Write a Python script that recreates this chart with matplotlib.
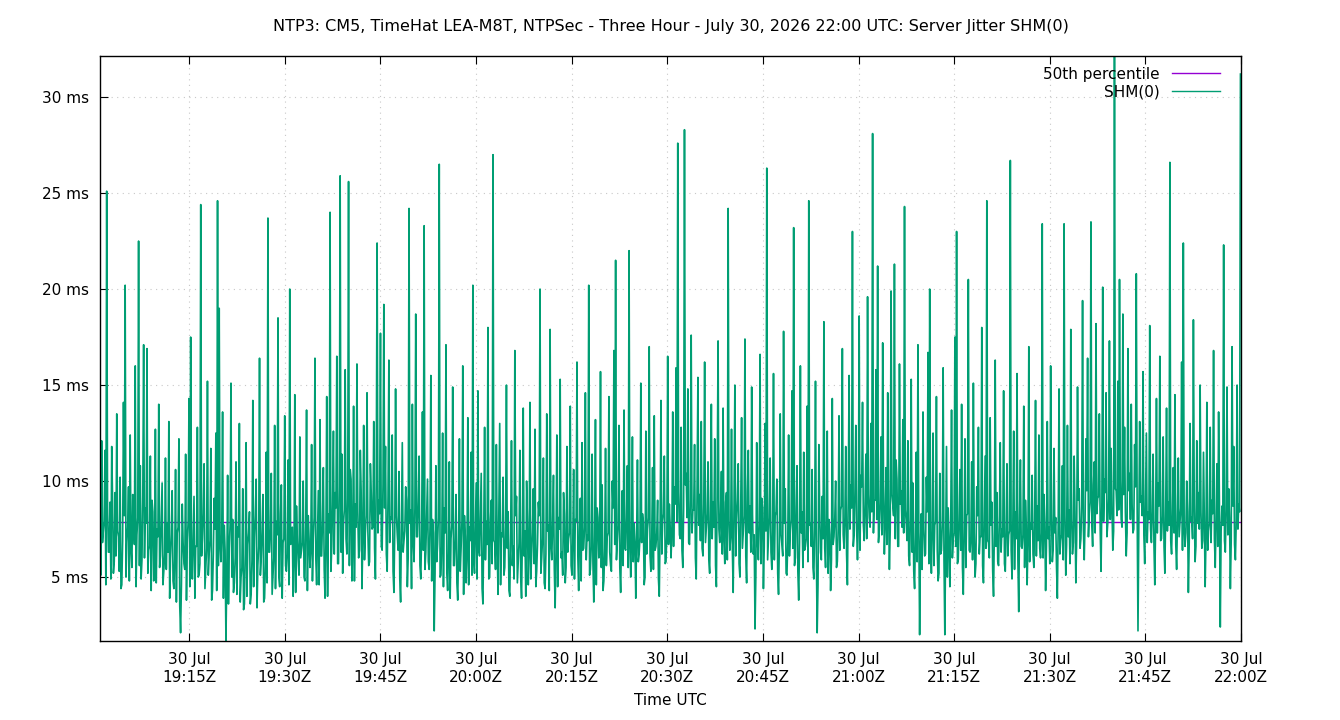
import numpy as np
import pandas as pd
import matplotlib
matplotlib.use("Agg")
import matplotlib.pyplot as plt

# sample window
start_time = "2026-07-30 19:01:00"
end_time = "2026-07-30 21:59:55"

# SHM(0) jitter in ms left to right (main samples)
jitter_a = [
    9.8, 12.1, 7.4, 11.6, 25.1, 6.3, 8.9, 11.8, 5.2, 9.4, 13.5, 7.1, 10.2, 4.6, 14.1, 20.2, 6.8, 9.7, 12.4, 5.5,
    8.3, 16.0, 7.2, 22.5, 10.8, 5.9, 17.1, 8.6, 16.9, 6.4, 11.3, 9.0, 4.8, 12.7, 7.5, 14.0, 6.1, 9.9, 5.3, 11.2,
    7.8, 13.1, 6.0, 9.5, 4.4, 10.6, 7.3, 12.2, 2.1, 8.8, 5.7, 11.4, 6.9, 14.3, 17.5, 4.9, 9.2, 6.6, 12.8, 5.1,
    24.4, 7.0, 10.9, 5.4, 15.2, 6.2, 11.7, 4.3, 9.1, 12.5, 24.6, 19.0, 5.8, 13.6, 7.7, 1.7, 10.3, 6.5, 15.1, 8.0,
    4.7, 11.0, 7.6, 13.0, 5.0, 9.6, 3.6, 12.0, 6.7, 8.4, 4.1, 14.2, 7.1, 10.1, 5.6, 16.4, 6.0, 9.3, 3.9, 11.5,
    23.7, 6.3, 10.4, 5.1, 12.9, 7.9, 18.5, 4.5, 9.8, 6.8, 13.4, 5.3, 11.1, 20.0, 7.4, 4.0, 14.5, 8.7, 5.9, 12.3,
    6.4, 10.0, 4.8, 13.7, 8.2, 5.5, 11.9, 7.0, 16.4, 4.6, 9.5, 13.2, 6.1, 10.7, 3.9, 14.4, 8.3, 24.0, 6.6, 12.6,
    9.4, 16.5, 5.7, 25.9, 11.4, 7.8, 15.8, 6.2, 25.6, 10.6, 4.8, 13.9, 8.8, 16.1, 6.0, 11.6, 4.4, 12.9, 7.3, 14.6,
    5.6, 10.9, 7.5, 13.1, 4.9, 22.4, 9.0, 17.7, 6.4, 19.2, 11.8, 5.3, 16.3, 8.1, 12.4, 4.2, 14.8, 7.2, 10.5, 3.7,
    12.0, 6.9, 9.7, 4.5, 24.2, 8.5, 14.0, 5.8, 18.7, 7.1, 11.3, 4.9, 13.6, 23.3, 6.3, 10.1, 5.4, 15.5, 8.0, 2.2,
    10.8, 6.7, 26.5, 5.1, 12.5, 8.6, 17.1, 4.3, 11.0, 7.0, 14.9, 5.6, 9.3, 3.8, 12.2, 6.5, 16.0, 8.2, 4.7, 13.3,
    7.6, 11.5, 20.2, 5.2, 9.9, 14.7, 6.1, 10.4, 3.6, 12.8, 7.9, 18.0, 5.0, 9.0, 27.0, 6.8, 11.9, 4.1, 13.0, 7.3,
    10.2, 5.5, 15.0, 8.4, 4.0, 12.1, 6.6, 16.8, 9.2, 5.7, 11.6, 3.9, 13.8, 7.4, 10.0, 4.6, 14.1, 6.2, 9.6, 12.7,
    5.3, 8.9, 20.0, 6.0, 11.2, 4.4, 13.5, 7.7, 17.9, 5.9, 10.3, 3.4, 12.4, 8.1, 15.3, 6.3, 9.4, 4.7, 11.8, 7.0,
    13.9, 5.1, 10.6, 8.0, 16.2, 4.3, 9.1, 12.0, 6.5, 14.6, 7.2, 20.2, 5.4, 11.4, 3.7, 13.2, 8.6, 6.0, 15.7, 9.8,
    4.8, 11.7, 7.1, 14.4, 5.6, 10.0, 16.8, 21.5, 6.9, 12.9, 4.2, 9.5, 13.7, 6.4, 10.8, 22.0, 5.0, 12.3, 7.8, 3.9,
    11.1, 6.2, 15.1, 8.3, 4.6, 12.6, 7.5, 17.0, 5.3, 10.7, 13.4, 6.6, 9.0, 4.0, 14.2, 7.9, 11.3, 5.8, 16.5, 8.8,
    6.0, 13.6, 9.7, 15.9, 27.6, 7.2, 12.8, 5.5, 28.3, 10.4, 14.8, 6.7, 17.6, 8.5, 11.9, 4.9, 15.4, 9.3, 13.1, 6.1,
    16.2, 7.6, 11.0, 5.2, 14.0, 8.9, 12.2, 4.5, 17.3, 6.8, 10.5, 13.8, 5.7, 9.4, 24.2, 6.4, 12.7, 4.2, 15.0, 8.0,
    10.9, 5.0, 13.3, 7.3, 17.4, 4.7, 11.6, 8.7, 14.9, 6.2, 2.3, 12.0, 5.9, 16.6, 9.1, 4.4, 13.0, 26.3, 7.0, 11.2,
    5.4, 15.6, 8.2, 10.1, 4.1, 13.5, 6.7, 17.8, 9.6, 5.1, 12.4, 7.4, 14.7, 23.2, 6.0, 10.8, 3.8, 16.0, 8.4, 11.5,
    6.6, 13.9, 24.6, 7.8, 10.6, 4.9, 15.2, 2.1, 11.9, 6.3, 9.2, 18.3, 5.5, 12.6, 8.0, 4.3, 14.3, 7.1, 10.0, 5.8,
    13.4, 8.5, 16.9, 6.5, 11.8, 4.6, 15.5, 9.8, 23.0, 7.2, 12.9, 5.9, 18.6, 10.3, 14.1, 6.9, 11.4, 19.6, 8.1, 13.0,
    28.1, 9.0, 15.8, 21.2, 7.5, 12.3, 17.2, 6.2, 10.7, 14.6, 5.4, 19.9, 8.8, 21.3, 11.1, 6.6, 16.1, 9.5, 13.2, 24.3,
    7.9, 12.1, 5.6, 15.3, 9.9, 4.4, 11.5, 17.1, 2.0, 8.3, 13.6, 6.1, 10.2, 16.7, 20.0, 5.2, 12.5, 7.7, 14.4, 4.8,
    10.4, 6.4, 15.9, 2.0, 11.8, 8.6, 4.5, 13.7, 7.0, 17.5, 23.0, 5.9, 10.6, 14.0, 4.1, 12.2, 8.2, 20.5, 6.3, 11.0,
    15.1, 5.0, 9.7, 12.8, 7.1, 18.0, 4.7, 11.3, 24.6, 6.8, 13.3, 8.9, 4.0, 16.3, 9.4, 5.6, 12.0, 7.5, 14.7, 5.3,
    10.9, 7.2, 26.7, 4.9, 12.6, 8.4, 15.6, 3.2, 11.1, 6.5, 13.9, 9.0, 4.6, 17.0, 7.8, 10.3, 5.5, 14.2, 8.7, 12.4,
    6.0, 23.4, 9.3, 4.3, 13.1, 7.6, 16.0, 5.8, 11.7, 8.1, 3.9, 14.8, 6.9, 10.8, 23.4, 5.1, 12.9, 8.5, 17.9, 6.2,
    11.3, 4.7, 14.9, 9.6, 7.0, 19.4, 5.9, 12.2, 16.4, 8.3, 23.5, 6.6, 11.0, 18.2, 9.1, 13.5, 5.3, 20.1, 10.1, 14.6,
    7.8, 17.3, 11.7, 6.4, 33.5, 9.5, 15.2, 20.5, 8.0, 18.7, 12.8, 6.1, 16.9, 10.4, 14.0, 7.3, 11.9, 20.8, 2.2, 13.1,
    9.2, 15.7, 5.7, 12.5, 8.4, 18.1, 6.8, 11.4, 4.6, 14.3, 9.9, 16.5, 7.0, 12.3, 5.2, 13.8, 8.9, 26.6, 6.2, 10.7,
    14.5, 5.4, 11.2, 7.9, 16.2, 22.4, 6.6, 10.0, 4.2, 13.0, 8.1, 18.4, 5.8, 12.1, 9.4, 15.0, 6.5, 11.5, 4.5, 14.1,
    7.4, 12.8, 9.0, 16.8, 5.5, 10.9, 13.6, 2.4, 8.7, 22.3, 6.3, 14.9, 9.6, 4.4, 17.0, 11.8, 5.9, 15.0, 8.8, 31.2,
]

# in-between samples (one after each main sample, none after the last)
jitter_b = [
    5.1, 6.8, 7.9, 4.6, 8.7, 6.3, 4.9, 9.0, 5.8, 6.1, 7.4, 5.3, 4.4, 6.9, 8.2, 5.0, 7.6, 4.8, 6.4, 9.3,
    6.7, 4.5, 8.1, 5.6, 4.9, 9.2, 6.0, 7.8, 5.2, 6.6, 4.3, 8.4, 5.9, 4.7, 7.1, 5.5, 8.0, 4.6, 6.2, 5.4,
    6.3, 3.9, 7.2, 4.8, 5.9, 3.7, 7.6, 3.5, 4.6, 6.8, 5.4, 3.8, 7.9, 4.5, 6.0, 7.0, 3.9, 6.6, 5.0, 5.7,
    6.1, 8.3, 4.4, 6.5, 5.1, 6.9, 3.8, 6.2, 7.5, 4.3, 5.6, 6.7, 7.2, 3.9, 6.4, 4.9, 3.6, 7.8, 5.0, 4.2,
    6.0, 4.1, 7.1, 3.7, 5.5, 3.3, 6.2, 4.0, 7.3, 3.6, 5.9, 4.5, 8.2, 3.4, 6.6, 5.1, 7.4, 3.7, 5.7, 4.7,
    6.3, 7.5, 4.1, 6.0, 4.4, 7.2, 5.0, 8.3, 3.9, 7.0, 5.6, 6.2, 4.6, 6.7, 7.6, 5.8, 4.2, 6.9, 5.1, 6.0,
    6.8, 5.0, 7.7, 4.3, 7.0, 6.4, 4.8, 8.1, 6.0, 6.9, 4.6, 6.1, 8.0, 5.4, 6.7, 4.0, 7.3, 5.3, 8.8, 6.2,
    8.6, 5.7, 9.7, 6.3, 5.2, 8.5, 7.0, 9.1, 5.6, 10.1, 6.7, 4.8, 7.6, 8.4, 6.4, 9.5, 7.1, 5.9, 8.2, 7.4,
    5.8, 9.4, 7.6, 6.5, 10.3, 7.3, 8.3, 6.6, 9.8, 8.6, 6.2, 9.2, 6.8, 8.0, 5.3, 7.4, 8.2, 6.4, 4.9, 8.1,
    6.3, 7.4, 9.0, 6.0, 7.8, 4.4, 6.8, 8.6, 7.1, 8.9, 5.6, 7.2, 6.4, 5.4, 8.3, 5.8, 7.7, 4.8, 7.3, 5.2,
    5.8, 8.1, 5.0, 6.6, 4.5, 7.3, 5.2, 6.3, 3.9, 7.7, 5.6, 7.0, 4.7, 6.5, 5.3, 7.9, 4.1, 7.1, 6.1, 4.6,
    6.9, 5.1, 5.9, 7.5, 4.9, 6.4, 8.2, 4.4, 7.4, 5.9, 6.7, 4.9, 8.0, 5.7, 6.9, 5.4, 6.5, 8.5, 4.6, 7.1,
    5.1, 7.7, 6.5, 4.3, 7.3, 5.6, 4.9, 8.2, 4.7, 6.8, 5.0, 7.1, 6.1, 4.0, 8.0, 6.2, 4.9, 7.3, 5.7, 4.5,
    6.7, 8.2, 5.2, 7.0, 4.7, 6.2, 7.4, 4.3, 6.6, 7.8, 5.4, 6.3, 4.5, 7.5, 6.0, 5.1, 8.3, 5.5, 6.3, 7.3,
    5.6, 6.8, 4.9, 7.9, 6.1, 7.4, 4.8, 6.4, 7.6, 5.9, 6.9, 5.1, 6.6, 5.7, 7.2, 4.6, 8.1, 6.3, 5.5, 4.3,
    6.5, 5.6, 7.3, 6.3, 5.3, 8.6, 6.7, 5.9, 7.7, 5.5, 7.1, 5.6, 6.5, 8.1, 5.5, 6.6, 7.5, 5.8, 6.8, 7.0,
    5.8, 7.1, 6.8, 7.9, 5.0, 6.2, 8.1, 6.1, 7.0, 5.4, 6.4, 7.3, 4.9, 7.7, 6.2, 8.3, 5.7, 7.2, 6.7, 7.6,
    7.4, 6.6, 8.8, 7.9, 9.4, 7.0, 6.4, 8.6, 9.8, 8.1, 6.8, 9.0, 7.3, 8.5, 6.0, 9.6, 7.7, 6.9, 6.5, 8.8,
    6.8, 8.3, 5.9, 9.2, 7.0, 7.6, 5.6, 10.0, 7.5, 8.4, 6.2, 7.0, 8.9, 5.9, 7.9, 7.1, 6.5, 8.8, 6.1, 9.0,
    5.7, 8.7, 6.5, 8.2, 6.1, 9.5, 7.3, 6.3, 8.3, 7.2, 5.1, 6.8, 7.8, 5.7, 8.6, 6.6, 7.4, 5.9, 8.1, 6.3,
    7.4, 5.9, 8.4, 5.2, 6.8, 7.2, 6.1, 7.8, 5.2, 6.9, 6.1, 8.0, 6.5, 5.6, 8.6, 5.3, 6.8, 7.3, 5.5, 6.4,
    7.0, 5.8, 7.7, 6.6, 5.5, 7.5, 6.2, 4.6, 8.5, 5.9, 7.0, 6.5, 7.9, 5.2, 7.2, 5.9, 6.7, 8.1, 5.5, 7.5,
    6.4, 8.7, 7.2, 8.1, 6.2, 9.2, 7.5, 8.6, 6.6, 9.5, 7.5, 7.9, 6.4, 9.7, 7.7, 8.8, 7.0, 9.3, 7.6, 8.4,
    7.3, 9.0, 8.0, 6.8, 8.9, 7.2, 9.8, 7.8, 6.7, 8.7, 7.5, 9.3, 8.2, 7.0, 10.1, 6.6, 8.8, 7.6, 7.3, 8.5,
    6.9, 6.1, 8.1, 6.3, 5.3, 7.3, 5.8, 7.7, 6.6, 5.4, 7.5, 6.2, 8.4, 5.7, 6.8, 7.4, 5.6, 7.9, 6.4, 5.2,
    6.2, 7.8, 5.9, 7.2, 5.0, 6.8, 7.6, 6.0, 7.3, 6.6, 5.7, 8.0, 6.4, 5.5, 7.5, 5.5, 8.3, 6.4, 7.1, 5.9,
    7.3, 5.7, 8.2, 6.2, 7.1, 5.6, 7.9, 6.5, 6.9, 6.0, 7.7, 5.3, 7.5, 6.6, 5.8, 8.2, 6.3, 7.1, 5.7, 7.6,
    6.1, 7.4, 6.4, 7.9, 5.4, 7.0, 5.9, 8.1, 6.6, 7.2, 5.5, 7.7, 6.8, 5.8, 7.5, 6.2, 8.0, 6.1, 6.9, 6.5,
    7.3, 6.0, 7.8, 6.6, 7.0, 5.7, 8.3, 6.4, 7.3, 5.5, 7.7, 6.2, 7.2, 5.9, 8.2, 6.7, 7.1, 5.7, 8.0, 6.8,
    8.4, 7.0, 9.0, 6.5, 8.7, 7.5, 8.0, 9.5, 7.1, 8.9, 7.7, 9.8, 7.3, 8.3, 9.2, 7.5, 8.9, 7.9, 9.4, 7.1,
    9.1, 8.0, 8.7, 7.4, 9.6, 8.2, 8.5, 10.0, 7.6, 9.3, 8.4, 7.3, 9.5, 8.0, 8.8, 7.5, 9.7, 8.6, 7.8, 8.9,
    8.2, 7.2, 8.9, 6.8, 8.0, 7.5, 8.4, 6.7, 7.8, 7.3, 8.7, 6.9, 8.2, 6.6, 8.5, 7.4, 7.7, 6.9, 8.3, 7.3,
    6.7, 8.0, 7.1, 8.6, 6.4, 7.6, 7.3, 8.4, 6.8, 7.9, 7.0, 8.8, 6.6, 7.8, 7.5, 8.4, 6.9, 8.1, 7.2, 6.4,
    7.8, 6.8, 8.3, 7.0, 8.0, 6.6, 8.7, 7.4, 7.7, 6.9, 8.5, 7.2, 8.1, 6.9, 8.7, 6.7, 7.9, 7.5, 8.4,
]
p50_ms = 7.86

y_ticks = [5, 10, 15, 20, 25, 30]
x_tick_times = ["19:15", "19:30", "19:45", "20:00", "20:15", "20:30",
                "20:45", "21:00", "21:15", "21:30", "21:45", "22:00"]

# interleave main and in-between samples
jitter_ms = []
for i, a in enumerate(jitter_a):
    jitter_ms.append(a)
    if i < len(jitter_b):
        jitter_ms.append(jitter_b[i])

times = pd.date_range(start_time, end_time, periods=len(jitter_ms))
x_end = pd.Timestamp("2026-07-30 22:00")

fig = plt.figure(figsize=(13.4, 7.2), dpi=100)
ax = fig.add_axes([0.0746, 0.1097, 0.8515, 0.8125])

ax.plot([times[0], x_end], [p50_ms, p50_ms], color="#9400d3", lw=1.0, label="50th percentile")
ax.plot(times, jitter_ms, color="#009e73", lw=1.2, label="SHM(0)")

ax.set_xlim(times[0], x_end)
ax.set_ylim(1.67, 32.14)

ax.set_yticks(y_ticks)
ax.set_yticklabels([f"{v} ms" for v in y_ticks])
ax.set_xticks([pd.Timestamp("2026-07-30 " + t) for t in x_tick_times])
ax.set_xticklabels([f"30 Jul\n{t}Z" for t in x_tick_times])

ax.tick_params(direction="in", length=6, width=0.8, top=True, right=False,
               labelsize=11, pad=8)
ax.grid(True, color="#c8c8c8", linestyle=(0, (1, 4)), linewidth=0.8)
for s in ax.spines.values():
    s.set_linewidth(1.0)

ax.set_title("NTP3: CM5, TimeHat LEA-M8T, NTPSec - Three Hour - July 30, 2026 22:00 UTC: Server Jitter SHM(0)",
             fontsize=11.5, pad=18)
ax.set_xlabel("Time UTC", fontsize=11, labelpad=6)

leg = ax.legend(loc="upper right", bbox_to_anchor=(0.991, 1.0), frameon=False, markerfirst=False,
                fontsize=11, handlelength=3.15, borderaxespad=0.3, labelspacing=0.15)
for h in leg.get_lines():
    h.set_linewidth(1.0)

fig.savefig("out.png", dpi=100)
